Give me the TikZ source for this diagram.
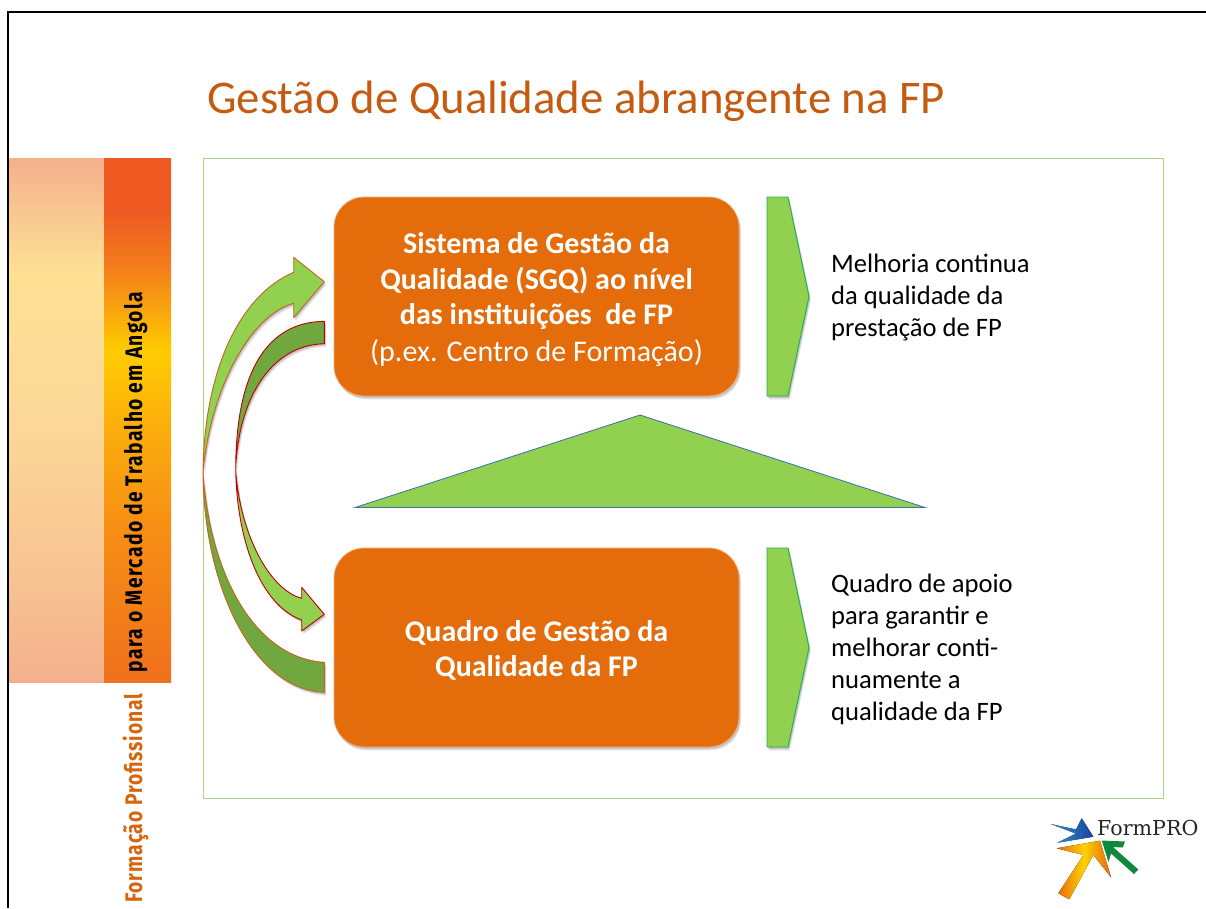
\documentclass[tikz,border=0pt]{standalone}
\usepackage{fontspec}
\setmainfont{Carlito}
\newfontfamily\sidefont[FakeStretch=0.8,LetterSpace=6]{Fira Sans}
\newfontfamily\sidefontb[FakeStretch=0.8,LetterSpace=3.8]{Fira Sans}
\newfontfamily\logofont{DejaVu Serif}
\usetikzlibrary{shadows}
\definecolor{ttl}{HTML}{C55A11}
\definecolor{boxo}{HTML}{E46C0A}
\definecolor{boxedge}{HTML}{F4B183}
\definecolor{lgreen}{HTML}{92D050}
\definecolor{dgreen}{HTML}{70A83F}
\definecolor{framec}{HTML}{A9D77F}
\definecolor{arrowor}{HTML}{C8621E}
\definecolor{arrowrd}{HTML}{C00000}
\definecolor{pentaedge}{HTML}{1FB050}
\definecolor{tribl}{HTML}{3A6FB0}
\definecolor{sa}{HTML}{F4B08C}
\definecolor{sb}{HTML}{FDE094}
\definecolor{sc}{HTML}{F7C392}
\definecolor{sd}{HTML}{FBD898}
\definecolor{ra}{HTML}{EE5A22}
\definecolor{rab}{HTML}{F27A1C}
\definecolor{rb}{HTML}{F9A50E}
\definecolor{rc}{HTML}{FFCC00}
\definecolor{rd}{HTML}{FBB00C}
\definecolor{re}{HTML}{F78F14}
\definecolor{rf}{HTML}{F0701C}
\definecolor{logoa}{HTML}{2E9BD6}
\definecolor{logob}{HTML}{1A3FA0}
\definecolor{logoc}{HTML}{E8650C}
\definecolor{logod}{HTML}{FFD200}
\definecolor{logoe}{HTML}{0F8A3C}
\pgfdeclareverticalshading{sideleft}{100bp}{color(0bp)=(sa); color(25bp)=(sa); color(35bp)=(sc); color(50bp)=(sd); color(64bp)=(sb); color(75bp)=(sa); color(100bp)=(sa)}
\pgfdeclareverticalshading{sideright}{100bp}{color(0bp)=(rf); color(25bp)=(rf); color(40bp)=(re); color(50bp)=(rd); color(56.6bp)=(rc); color(60.5bp)=(rb); color(65bp)=(rab); color(70bp)=(ra); color(75bp)=(ra); color(100bp)=(ra)}
\tikzset{
  softshadow/.style={
    general shadow={shadow xshift=2pt,shadow yshift=-3.5pt,opacity=.07,fill=black},
    general shadow={shadow xshift=1.5pt,shadow yshift=-2.5pt,opacity=.09,fill=black},
    general shadow={shadow xshift=1pt,shadow yshift=-1.5pt,opacity=.11,fill=black}},
  mainbox/.style={draw=boxedge,line width=.8pt,fill=boxo,rounded corners=30pt,minimum width=405pt,minimum height=199pt,softshadow,
    text=white,align=center,font=\fontsize{30}{35.5}\selectfont,inner sep=0pt},
  sidetext/.style={align=left,anchor=north west,font=\fontsize{26.6}{32}\selectfont,inner sep=0pt,text=black},
  penta/.style={draw=pentaedge,line width=.9pt,fill=lgreen,softshadow},
  lightarrowA/.style={fill=lgreen,draw=arrowor,line width=.9pt,softshadow},
  darkarrowA/.style={fill=dgreen,draw=arrowor,line width=.9pt,softshadow},
  lightarrowB/.style={fill=lgreen,draw=arrowrd,line width=.9pt,softshadow},
  darkarrowB/.style={fill=dgreen,draw=arrowrd,line width=.9pt,softshadow},
  sidelabel/.style={rotate=90,anchor=base west,inner sep=0pt},
}
\begin{document}
\begin{tikzpicture}[x=1pt,y=-1pt]
\useasboundingbox (0,0) rectangle (1206,908);
\fill[white] (0,0) rectangle (1206,908);
% slide edge
\draw[black,line width=2pt] (8,908) -- (8,11.5) -- (1206,11.5);
% side band
\shade[shading=sideleft] (9,158) rectangle (104,682);
\shade[shading=sideright] (104,158) rectangle (171,682);
\node[sidelabel,text=black,font=\sidefont\bfseries\fontsize{24}{24}\selectfont] (sideb) at (142,672.5) {para o Mercado de Trabalho em Angola};
\node[sidelabel,text=ttl!70!orange,font=\sidefontb\bfseries\fontsize{24}{24}\selectfont] (sidea) at (142,903) {Formação Profissional};
% title
\node[anchor=base west,inner sep=0pt,text=ttl,font=\fontsize{46.8}{46.8}\selectfont] (title) at (207,113) {Gestão de Qualidade abrangente na FP};
% frame
\draw[framec,line width=1.2pt] (203.5,158.5) rectangle (1163.5,798.5);
% boxes
\node[mainbox] (sgq) at (536.5,296.5) {\rule{0pt}{28pt}\textbf{Sistema de Gestão da}\\\textbf{Qualidade (SGQ) ao nível}\\\textbf{das instituições~ de FP}\\[1.5pt](p.ex. Centro de Formação)};
\node[mainbox] (qgq) at (536.5,647.5) {\rule{0pt}{27pt}\textbf{Quadro de Gestão da}\\\textbf{Qualidade da FP}};
% triangle
\draw[fill=lgreen,draw=tribl,line width=.8pt] (355,507.5) -- (640,415) -- (925,507.5) -- cycle;
% pentagons
\draw[penta] (767,197) -- (788,197) -- (809,296.5) -- (788,396) -- (767,396) -- cycle;
\draw[penta] (767,548) -- (788,548) -- (809,647.5) -- (788,747) -- (767,747) -- cycle;
% right texts
\node[sidetext] (t1) at (831,254) {Melhoria continua\\da qualidade da\\prestação de FP};
\node[sidetext] (t2) at (831,574) {Quadro de apoio\\para garantir e\\melhorar conti-\\nuamente a\\qualidade da FP};
% curved arrows
\draw[darkarrowA,line join=round] (203,473) .. controls (204,590) and (255,690) .. (324.3,692.3) -- (324.3,662.3) .. controls (255,658) and (210,575) .. (203,473) -- cycle;
\draw[lightarrowA,line join=round] (203,473) .. controls (204,370) and (240,295) .. (293.7,272.3) -- (293.7,257.3) -- (324.3,281.7) -- (293.7,317.7) -- (293.7,303.3) .. controls (250,315) and (210,390) .. (203,473) -- cycle;
\draw[lightarrowB,line join=round] (235.7,470) .. controls (237,540) and (260,605) .. (301.7,620) -- (301.7,631) -- (324.3,614.3) -- (301.7,587.3) -- (301.7,598.3) .. controls (270,590) and (240,535) .. (235.7,470) -- cycle;
\draw[darkarrowB,line join=round] (324.3,321.3) .. controls (265,322) and (235.7,375) .. (235.7,470) .. controls (238,400) and (270,345) .. (324.3,343.7) -- cycle;
% logo
\fill[left color=logoa,right color=logob] (1050.7,824) -- (1076,829.5) -- (1081.7,818.3) -- (1093.3,836.7) -- (1057.5,842.7) -- (1076,833.5) -- cycle;
\fill[left color=logoc,right color=logoc,middle color=logod] (1058.3,893.3) -- (1083.3,855) -- (1056.7,848.3) -- (1100,840.7) -- (1111,877.3) -- (1093.3,855) -- (1069.3,899.3) -- cycle;
\fill[logoe] (1101.7,840.5) -- (1125,841.5) -- (1122.7,847.5) -- (1113,847) -- (1138.3,869.5) -- (1134,874) -- (1111,853.5) -- (1108.5,862) -- cycle;
\node[anchor=base west,inner sep=0pt,text=black!85,font=\logofont\fontsize{20.6}{21}\selectfont] (logo) at (1097,835) {FormPRO};
\end{tikzpicture}
\end{document}
